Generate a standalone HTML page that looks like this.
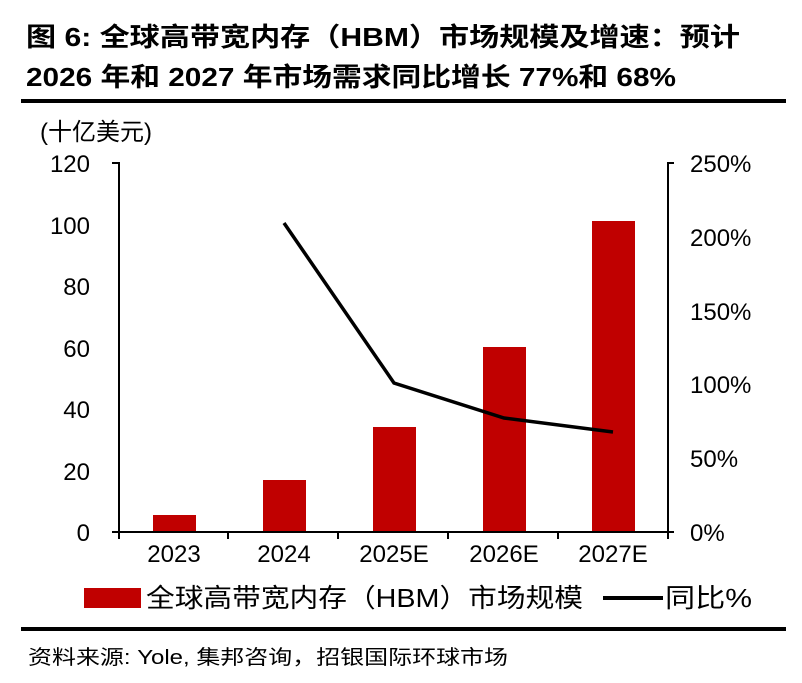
<!DOCTYPE html><html><head><meta charset="utf-8"><style>
body{margin:0;background:#fff;width:802px;height:678px;overflow:hidden;font-family:"Liberation Sans","Noto Sans CJK SC",sans-serif}
</style></head><body>
<svg width="802" height="678" xmlns="http://www.w3.org/2000/svg" font-family="Liberation Sans, Noto Sans CJK SC, sans-serif">
<text x="26" y="46" font-size="26" font-weight="bold" fill="#000" textLength="714" lengthAdjust="spacingAndGlyphs">图 6: 全球高带宽内存（HBM）市场规模及增速：预计</text>
<text x="26" y="86" font-size="26" font-weight="bold" fill="#000" textLength="650" lengthAdjust="spacingAndGlyphs">2026 年和 2027 年市场需求同比增长 77%和 68%</text>
<rect x="21" y="99" width="765" height="4" fill="#000"/>
<text x="40" y="140" font-size="24">(十亿美元)</text>
<g font-size="24" text-anchor="end">
<text x="90" y="172">120</text><text x="90" y="234">100</text><text x="90" y="295">80</text><text x="90" y="357">60</text><text x="90" y="418">40</text><text x="90" y="480">20</text><text x="90" y="541">0</text>
</g>
<g font-size="24">
<text x="690" y="172">250%</text><text x="690" y="246">200%</text><text x="690" y="320">150%</text><text x="690" y="393">100%</text><text x="690" y="467">50%</text><text x="690" y="541">0%</text>
</g>
<g fill="#c00000">
<rect x="153" y="515" width="43" height="17"/>
<rect x="263" y="480" width="43" height="52"/>
<rect x="373" y="427" width="43" height="105"/>
<rect x="483" y="347" width="43" height="185"/>
<rect x="592" y="221" width="43" height="311"/>
</g>
<g stroke="#000" stroke-width="2" fill="none">
<path d="M112 163H119V532M112 532H674M674 163H668V532"/>
<path d="M228 532v7M338 532v7M448 532v7M558 532v7M668 532v7M119 532v7"/>
</g>
<polyline points="284,223 394,383 504,418 613,432" stroke="#000" stroke-width="3.5" fill="none"/>
<g font-size="24" text-anchor="middle">
<text x="174" y="562">2023</text><text x="284" y="562">2024</text><text x="394" y="562">2025E</text><text x="504" y="562">2026E</text><text x="613" y="562">2027E</text>
</g>
<rect x="84" y="588" width="57" height="20" fill="#c00000"/>
<text x="146" y="607" font-size="26" textLength="437" lengthAdjust="spacingAndGlyphs">全球高带宽内存（HBM）市场规模</text>
<rect x="603" y="596" width="60" height="4" fill="#000"/>
<text x="665" y="607" font-size="26" textLength="87" lengthAdjust="spacingAndGlyphs">同比%</text>
<rect x="21" y="627" width="765" height="4" fill="#000"/>
<text x="28" y="664" font-size="20" textLength="480" lengthAdjust="spacingAndGlyphs">资料来源: Yole, 集邦咨询，招银国际环球市场</text>
</svg>
</body></html>
